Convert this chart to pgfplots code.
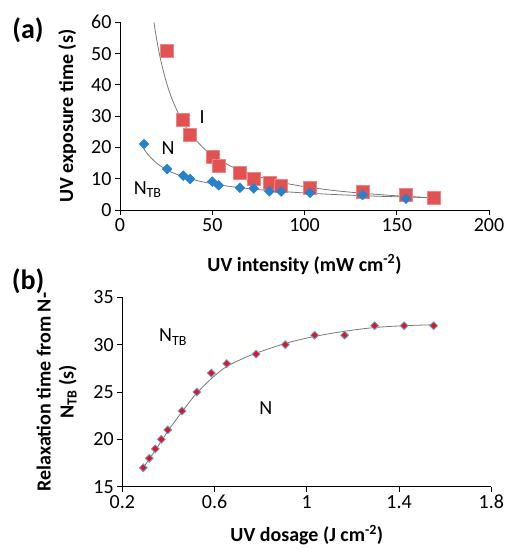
\documentclass[border=0pt]{standalone}
\usepackage{fontspec}
\setmainfont{Carlito}
\usepackage{pgfplots}
\pgfplotsset{compat=1.18}
\definecolor{redsq}{RGB}{226,82,82}
\definecolor{bluedi}{RGB}{38,130,202}
\definecolor{redb}{RGB}{235,20,20}
\definecolor{blueedge}{RGB}{90,170,230}
\definecolor{fitgray}{RGB}{120,120,120}
\begin{document}
\begin{tikzpicture}
\useasboundingbox (0pt,0pt) rectangle (507pt,-549pt);
\pgfplotsset{
  common/.style={
    scale only axis,
    axis x line*=bottom, axis y line*=left,
    axis line style={black, line width=1pt},
    tick style={black, line width=1pt},
    tick align=outside, major tick length=5pt,
    /pgf/number format/assume math mode=true,
    ticklabel style={font=\fontsize{20}{23}\selectfont},
    label style={font=\fontsize{20}{23}\selectfont\bfseries},
    clip=true,
  }
}
\begin{axis}[common,
  at={(120pt,-210pt)}, anchor=south west,
  width=369pt, height=187.7pt,
  xmin=0, xmax=200, ymin=0, ymax=60,
  xtick={0,50,100,150,200}, ytick={0,10,20,30,40,50,60},
  xlabel={UV intensity (mW cm\textsuperscript{-2})},
  ylabel={UV exposure time (s)},
  xlabel shift=16pt, ylabel shift=8pt,
]
% power-law trend lines
\addplot[fitgray, line width=0.8pt, smooth] coordinates {
(18.4,60) (20,54.1) (22,48.1) (25,41.1) (28,35.8) (32,30.4) (36,26.2) (40,23.1)
(45,19.95) (50,17.5) (60,14.0) (70,11.6) (80,9.85) (90,8.52) (100,7.48) (115,6.30)
(130,5.42) (150,4.54) (170,3.89)};
\addplot[fitgray, line width=0.8pt, smooth] coordinates {
(13,19.5) (15,17.85) (20,14.9) (25,12.96) (30,11.57) (40,9.66) (50,8.40) (60,7.50)
(70,6.81) (80,6.26) (100,5.45) (120,4.85) (140,4.40) (170,3.90)};
\addplot[only marks, mark=square*, mark size=6.5pt, mark options={fill=redsq, draw=redsq!70}] coordinates {
(25.5,51) (34,29) (38,24) (50,17) (53.5,14.2) (65,12) (72.5,10) (81,8.7)
(87.3,7.7) (103,7.1) (131.5,6.0) (155,4.8) (170,3.9)};
\addplot[only marks, mark=square*, mark size=3.5pt, mark options={rotate=45, fill=bluedi, draw=bluedi}] coordinates {
(13,21.1) (25.5,13.1) (34.3,11) (38,9.9) (50,9.1) (53.5,7.9) (65,7.1) (72.5,6.9)
(81,6.0) (87.3,5.9) (103,5.5) (131.5,4.8) (155,3.6)};
\node[font=\fontsize{20}{23}\selectfont] at (axis cs:44.5,29.6) {I};
\node[font=\fontsize{20}{23}\selectfont] at (axis cs:26,19.8) {N};
\node[font=\fontsize{20}{23}\selectfont] at (axis cs:15,6.4) {N\textsubscript{TB}};
\end{axis}
\begin{axis}[common,
  at={(122.3pt,-486.7pt)}, anchor=south west,
  width=369pt, height=189.4pt,
  xmin=0.2, xmax=1.8, ymin=15, ymax=35,
  xtick={0.2,0.6,1,1.4,1.8}, ytick={15,20,25,30,35},
  xlabel={UV dosage (J cm\textsuperscript{-2})},
  ylabel={Relaxation time from N-\\N\textsubscript{TB} (s)},
  ylabel style={align=center},
  xlabel shift=9pt, ylabel shift=10pt,
]
\addplot[fitgray, line width=0.8pt, smooth] coordinates {
(0.291,17.0) (0.35,19.1) (0.40,20.95) (0.46,22.95) (0.52,24.8) (0.59,26.5)
(0.65,27.65) (0.72,28.5) (0.78,29.1) (0.91,30.15) (1.03,30.85) (1.16,31.4)
(1.29,31.8) (1.42,32.0) (1.55,32.1)};
\addplot[only marks, mark=square*, mark size=2.8pt, mark options={rotate=45, fill=redb, draw=blueedge, line width=0.8pt}] coordinates {
(0.291,17) (0.317,18) (0.343,19) (0.369,20) (0.397,21) (0.459,23) (0.523,25)
(0.586,27) (0.653,28) (0.780,29) (0.907,30) (1.034,31) (1.164,31) (1.294,32)
(1.422,32) (1.550,32)};
\node[font=\fontsize{20}{23}\selectfont] at (axis cs:0.42,30.8) {N\textsubscript{TB}};
\node[font=\fontsize{20}{23}\selectfont] at (axis cs:0.822,23.3) {N};
\end{axis}
\node[font=\fontsize{28}{30}\selectfont\bfseries] at (28pt,-30pt) {(a)};
\node[font=\fontsize{28}{30}\selectfont\bfseries] at (28pt,-281pt) {(b)};
\end{tikzpicture}
\end{document}
